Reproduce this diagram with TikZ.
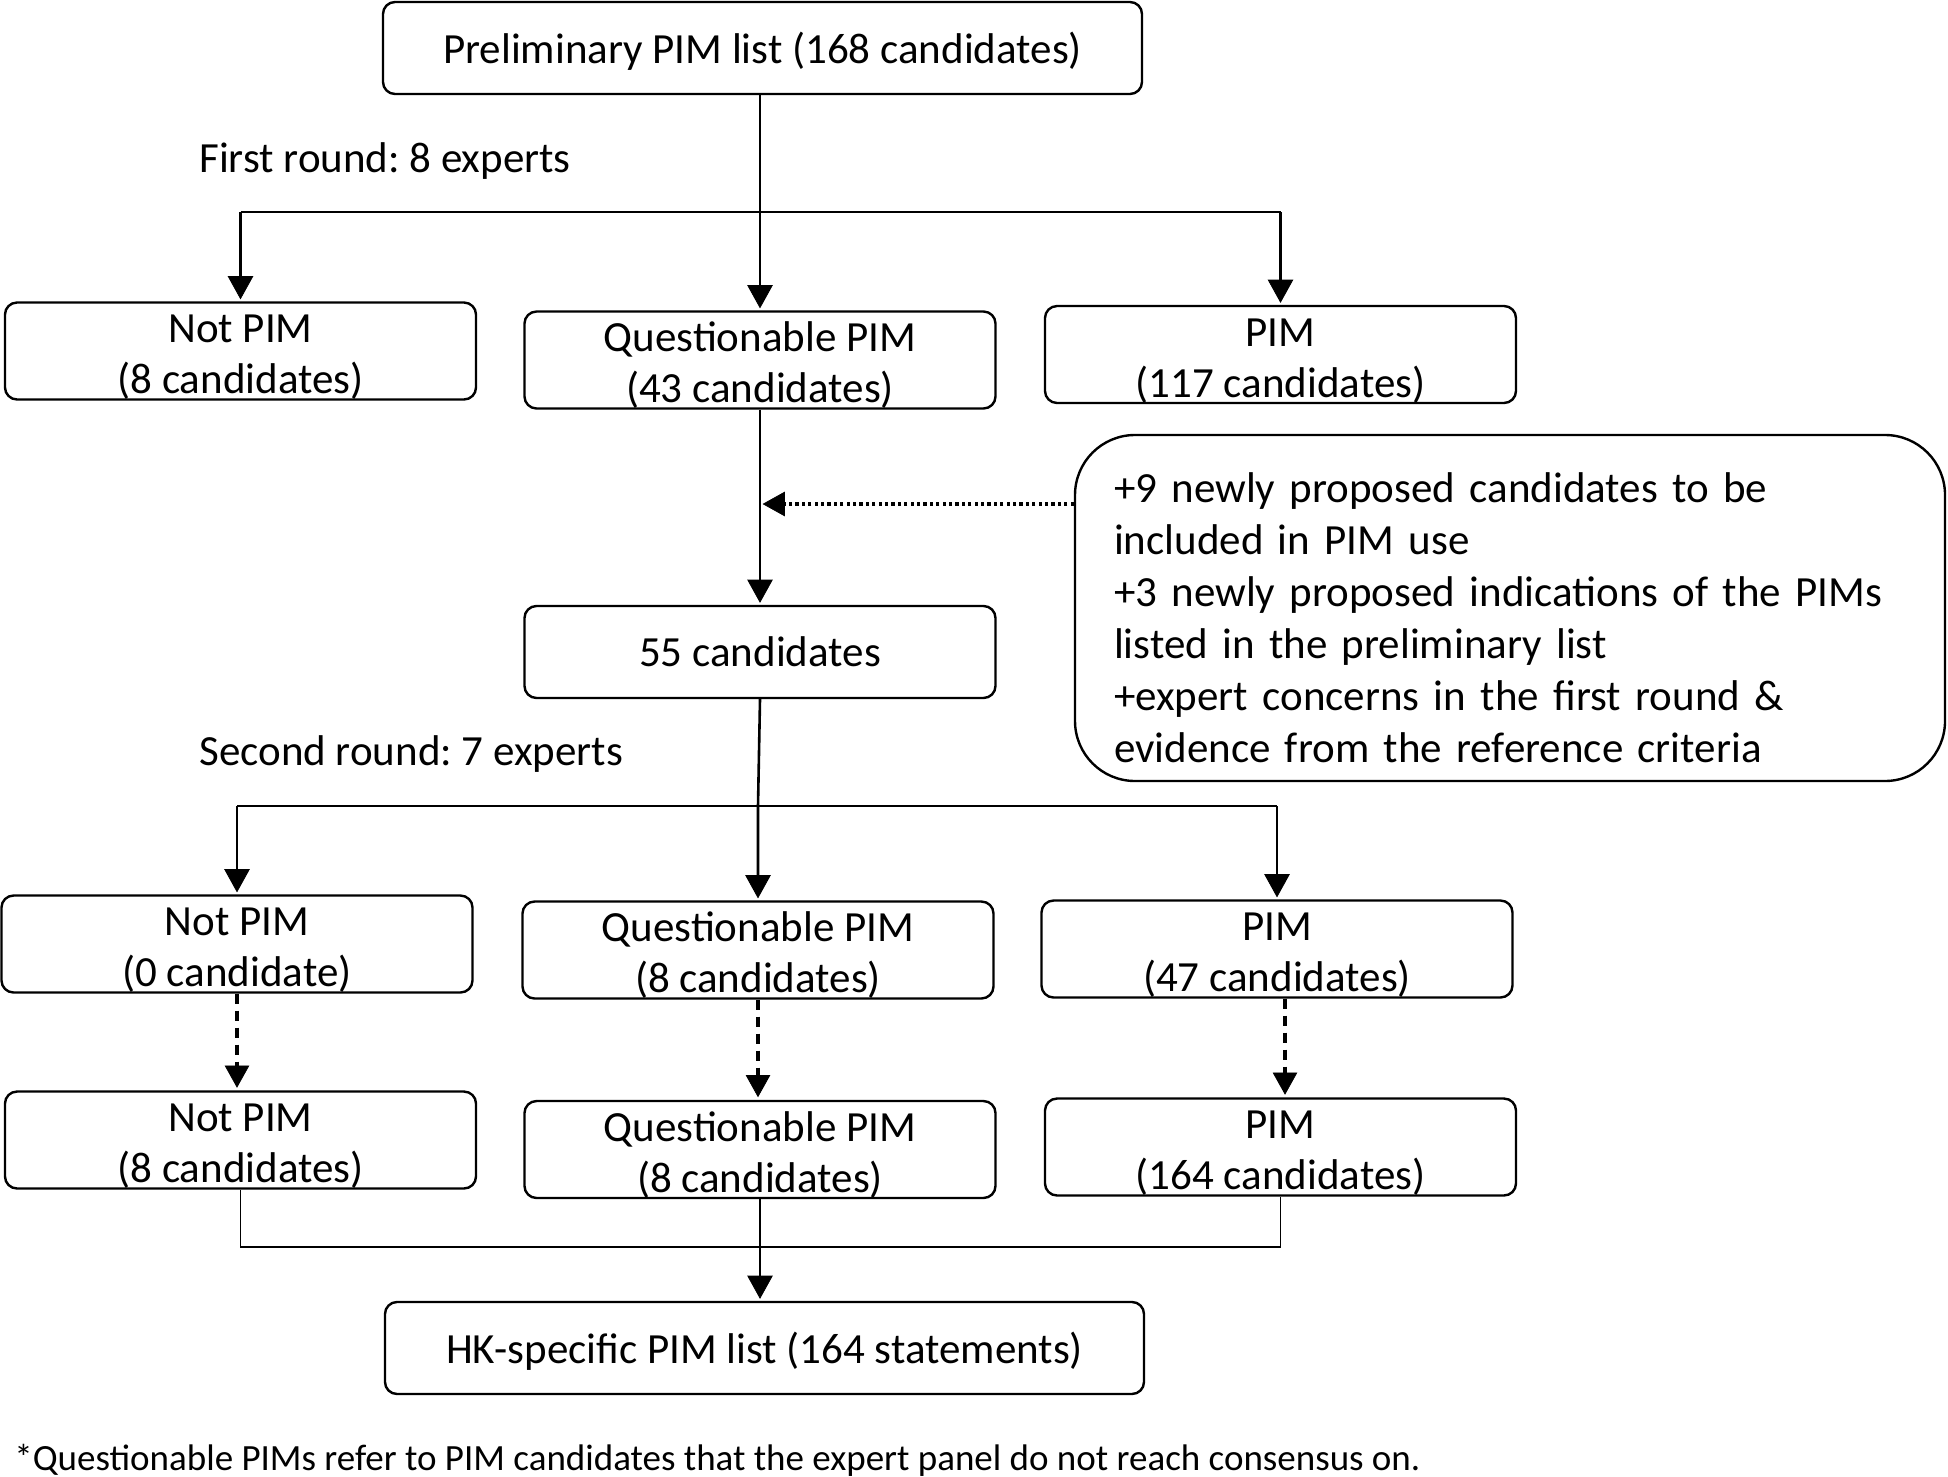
\documentclass[tikz,border=0pt]{standalone}
\usepackage{fontspec}
\setmainfont{Carlito}
\usetikzlibrary{arrows.meta, decorations.markings}
\frenchspacing
\newcommand{\tallstrut}{\rule{0pt}{20pt}}
\tikzstyle{Box} = [
draw,
line width=1.2pt,
rounded corners=6pt,
minimum width=235.5pt,
minimum height=46pt,
inner sep=0pt,
align=center,
font=\fontsize{21.5}{25.5}\selectfont]
\tikzstyle{Label} = [anchor=west, inner sep=0pt, font=\fontsize{21.5}{25.5}\selectfont]
\tikzstyle{Line} = [line width=1.3pt]
\tikzstyle{Arrow} = [
line width=1.3pt,
decoration={
markings,
mark=at position 0.9999 with {
\arrow{Triangle[width=14pt,length=13pt]}}},
shorten >= 5pt, preaction = {decorate}]

\begin{document}
\begin{tikzpicture}[x=0.5pt, y=-0.5pt]
    \useasboundingbox (0,0) rectangle (1948,1477);
    \node (1) [Box, minimum width=379.5pt] at (762.5,48) {\rule{0pt}{19pt}Preliminary PIM list (168 candidates)};
    \node (2) [Box] at (240.5,351) {\tallstrut Not PIM\\(8 candidates)};
    \node (3) [Box] at (760,360) {\tallstrut Questionable PIM\\(43 candidates)};
    \node (4) [Box] at (1280.5,354.5) {\tallstrut PIM\\(117 candidates)};
    \node (5) [Box, minimum width=435pt, minimum height=173pt, rounded corners=30pt,
        text width=396pt, align=left, font=\fontsize{21.5}{26}\selectfont] at (1510,608)
        {\rule{0pt}{25pt}+9 newly proposed candidates to be\\included in PIM use\\+3 newly proposed indications of the PIMs\\listed in the preliminary list\\+expert concerns in the first round \&\\evidence from the reference criteria};
    \node (6) [Box] at (760,652) {55 candidates};
    \node (7) [Box] at (237,944) {\tallstrut Not PIM\\(0 candidate)};
    \node (8) [Box] at (758,950) {\tallstrut Questionable PIM\\(8 candidates)};
    \node (9) [Box] at (1277,949) {\tallstrut PIM\\(47 candidates)};
    \node (10) [Box] at (240.5,1140) {\tallstrut Not PIM\\(8 candidates)};
    \node (11) [Box] at (760,1149.5) {\tallstrut Questionable PIM\\(8 candidates)};
    \node (12) [Box] at (1280.5,1147) {\tallstrut PIM\\(164 candidates)};
    \node (13) [Box, minimum width=379.5pt] at (764.5,1348) {\rule{0pt}{19pt}HK-specific PIM list (164 statements)};
    \node (14) [Label] at (199,161) {First round: 8 experts};
    \node (15) [Label] at (199,754) {Second round: 7 experts};
    \node (16) [Label, font=\fontsize{18.5}{22}\selectfont] at (14,1460)
        {*Questionable PIMs refer to PIM candidates that the expert panel do not reach consensus on.};
    \coordinate (b1) at (0,212);
    \coordinate (b2) at (0,806);
    \coordinate (b3) at (0,1247);
    \coordinate (m1) at (760,504);
    % first round
    \draw[Arrow] (3.north |- 1.south) to (3.north);
    \draw[Line] (b1 -| 2.north) to (b1 -| 4.north);
    \draw[Arrow] (b1 -| 2.north) to (2.north);
    \draw[Arrow] (b1 -| 4.north) to (4.north);
    \draw[Arrow] (3.south) to (6.north);
    \draw[Arrow, line width=1.6pt, dash pattern=on 1.6pt off 1.6pt] (5.west |- m1) to (m1);
    % second round
    \draw[Arrow] (6.south) to (b2 -| 8.north) to (8.north);
    \draw[Line] (b2 -| 7.north) to (b2 -| 9.north);
    \draw[Arrow] (b2 -| 7.north) to (7.north);
    \draw[Arrow] (b2 -| 9.north) to (9.north);
    \draw[Arrow, line width=1.6pt, dash pattern=on 5pt off 3.5pt] (7.south) to (7.south |- 10.north);
    \draw[Arrow, line width=1.6pt, dash pattern=on 5pt off 3.5pt] (8.south) to (8.south |- 11.north);
    \draw[Arrow, line width=1.6pt, dash pattern=on 5pt off 3.5pt] ([xshift=4pt]9.south) to ([xshift=4pt]9.south |- 12.north);
    % final list
    \draw[line width=0.8pt] (10.south) -- (b3 -| 10.south) -- (b3 -| 12.south) -- (12.south);
    \draw[Arrow] (11.south) to (11.south |- 13.north);
\end{tikzpicture}
\end{document}
